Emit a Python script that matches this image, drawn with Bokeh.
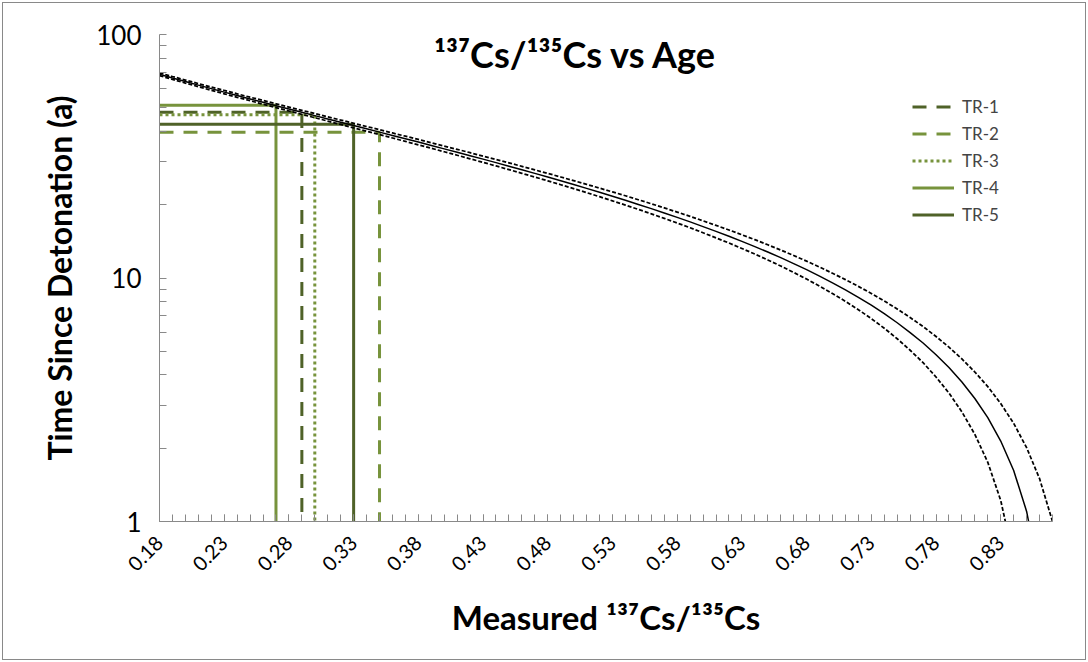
import numpy as np
from bokeh.plotting import figure
from bokeh.models import Range1d, FixedTicker, Label, Legend, LegendItem
from bokeh.embed import file_html
from bokeh.resources import INLINE

# ---- data ----
ratio = [0.18, 0.19, 0.20, 0.21, 0.22, 0.23, 0.24, 0.25, 0.26, 0.27,
         0.28, 0.29, 0.30, 0.31, 0.32, 0.33, 0.34, 0.35, 0.36, 0.37,
         0.38, 0.39, 0.40, 0.41, 0.42, 0.43, 0.44, 0.45, 0.46, 0.47,
         0.48, 0.49, 0.50, 0.51, 0.52, 0.53, 0.54, 0.55, 0.56, 0.57,
         0.58, 0.59, 0.60, 0.61, 0.62, 0.63, 0.64, 0.65, 0.66, 0.67,
         0.68, 0.69, 0.70, 0.71, 0.72, 0.73, 0.74, 0.75, 0.76, 0.77,
         0.78, 0.79, 0.80, 0.81, 0.82, 0.83, 0.84, 0.85, 0.86, 0.87]

age_central = [68.67, 66.32, 64.09, 61.96, 59.94, 58.00, 56.15, 54.37, 52.67, 51.02,
               49.44, 47.91, 46.44, 45.01, 43.63, 42.29, 40.99, 39.73, 38.50, 37.31,
               36.15, 35.02, 33.91, 32.84, 31.79, 30.77, 29.77, 28.79, 27.83, 26.89,
               25.98, 25.08, 24.20, 23.34, 22.49, 21.66, 20.85, 20.05, 19.27, 18.50,
               17.74, 17.00, 16.26, 15.54, 14.84, 14.14, 13.46, 12.78, 12.12, 11.46,
               10.82, 10.18, 9.55, 8.94, 8.33, 7.73, 7.14, 6.55, 5.97, 5.41,
               4.84, 4.29, 3.74, 3.20, 2.67, 2.14, 1.62, 1.10, 0.59, 0.09]

age_upper = [69.58, 67.23, 65.00, 62.87, 60.85, 58.91, 57.06, 55.28, 53.58, 51.93,
             50.35, 48.82, 47.35, 45.92, 44.54, 43.20, 41.90, 40.64, 39.41, 38.22,
             37.06, 35.93, 34.82, 33.75, 32.70, 31.68, 30.68, 29.70, 28.74, 27.80,
             26.89, 25.99, 25.11, 24.25, 23.40, 22.57, 21.76, 20.96, 20.18, 19.41,
             18.65, 17.91, 17.17, 16.45, 15.75, 15.05, 14.37, 13.69, 13.03, 12.37,
             11.73, 11.09, 10.46, 9.85, 9.24, 8.64, 8.05, 7.46, 6.88, 6.32,
             5.75, 5.20, 4.65, 4.11, 3.58, 3.05, 2.53, 2.01, 1.50, 1.00]

ratio_lower = ratio[:67]
age_lower = [67.75, 65.40, 63.17, 61.04, 59.02, 57.08, 55.23, 53.45, 51.75, 50.10,
             48.52, 46.99, 45.52, 44.09, 42.71, 41.37, 40.07, 38.81, 37.58, 36.39,
             35.23, 34.10, 32.99, 31.92, 30.87, 29.85, 28.85, 27.87, 26.91, 25.97,
             25.06, 24.16, 23.28, 22.42, 21.57, 20.74, 19.93, 19.13, 18.35, 17.58,
             16.82, 16.08, 15.34, 14.62, 13.92, 13.22, 12.54, 11.86, 11.20, 10.54,
             9.90, 9.26, 8.63, 8.02, 7.41, 6.81, 6.22, 5.63, 5.05, 4.49,
             3.92, 3.37, 2.82, 2.28, 1.75, 1.22, 0.70]

tr_names = ["TR-1", "TR-2", "TR-3", "TR-4", "TR-5"]
tr_ratio = [0.29, 0.35, 0.30, 0.27, 0.33]
tr_age = [47.9, 39.7, 46.8, 51.2, 42.8]

x_tick_values = [0.18, 0.23, 0.28, 0.33, 0.38, 0.43, 0.48, 0.53, 0.58, 0.63, 0.68, 0.73, 0.78, 0.83]
x_tick_labels = ["0.18", "0.23", "0.28", "0.33", "0.38", "0.43", "0.48", "0.53",
                 "0.58", "0.63", "0.68", "0.73", "0.78", "0.83"]
y_tick_values = [1, 10, 100]
y_tick_labels = ["1", "10", "100"]

# ---- styles ----
FONT = "Lato"
AXIS_GRAY = "#898989"
DARK = "#4F6228"
LIGHT = "#77933C"
tr_colors = [DARK, LIGHT, LIGHT, LIGHT, DARK]
tr_dashes = ["14 10", "14 10", "3 3", "solid", "solid"]

X0, X1 = 0.18, 0.87
Y0, Y1 = 1, 100

p = figure(width=1088, height=662, x_range=Range1d(X0, X1), y_range=Range1d(Y0, Y1),
           y_axis_type="log", output_backend="svg", toolbar_location=None,
           min_border_left=159, min_border_right=36, min_border_top=34, min_border_bottom=141)
p.outline_line_color = None
p.xgrid.visible = False
p.ygrid.visible = False
p.background_fill_color = "white"
p.border_fill_color = None
p.styles = {"background-color": "white",
            "box-shadow": "inset 0 0 0 2px white, inset 0 0 0 3px #898989"}

# TR reference lines
items = []
for name, xr, ya, c, d in zip(tr_names, tr_ratio, tr_age, tr_colors, tr_dashes):
    r = p.line([X0, xr, xr], [ya, ya, Y0], line_color=c, line_width=3, line_dash=d)
    items.append(LegendItem(label=name, renderers=[r]))

# curves
p.line(ratio, age_upper, line_color="black", line_width=1.75, line_dash="4 2")
p.line(ratio_lower, age_lower, line_color="black", line_width=1.75, line_dash="4 2")
p.line(ratio, age_central, line_color="black", line_width=1.5)

# x axis
minor = [round(0.18 + 0.01 * i, 2) for i in range(0, 70)]
p.xaxis.ticker = FixedTicker(ticks=x_tick_values, minor_ticks=minor)
p.xaxis.major_label_overrides = dict(zip(x_tick_values, x_tick_labels))
p.xaxis.major_label_orientation = np.pi / 4
p.xaxis.major_label_text_font = FONT
p.xaxis.major_label_text_font_size = "20px"
p.xaxis.major_label_text_color = "black"
p.xaxis.major_label_standoff = 18
p.xaxis.axis_label = "Measured ¹³⁷Cs/¹³⁵Cs"
p.xaxis.axis_label_text_font = FONT
p.xaxis.axis_label_text_font_style = "bold"
p.xaxis.axis_label_text_font_size = "33px"
p.xaxis.axis_label_text_color = "black"
p.xaxis.axis_label_standoff = 17

# y axis
p.yaxis.ticker = FixedTicker(ticks=y_tick_values,
                             minor_ticks=[2, 3, 4, 5, 6, 7, 8, 9, 20, 30, 40, 50, 60, 70, 80, 90])
p.yaxis.major_label_overrides = dict(zip(y_tick_values, y_tick_labels))
p.yaxis.major_label_text_font = FONT
p.yaxis.major_label_text_font_size = "26px"
p.yaxis.major_label_text_color = "black"
p.yaxis.major_label_standoff = 18
p.yaxis.axis_label = "Time Since Detonation (a)"
p.yaxis.axis_label_text_font = FONT
p.yaxis.axis_label_text_font_style = "bold"
p.yaxis.axis_label_text_font_size = "32px"
p.yaxis.axis_label_text_color = "black"
p.yaxis.axis_label_standoff = 14

for ax in (p.xaxis, p.yaxis):
    ax.axis_line_color = AXIS_GRAY
    ax.major_tick_line_color = AXIS_GRAY
    ax.minor_tick_line_color = AXIS_GRAY
    ax.major_tick_in = 7
    ax.major_tick_out = 0
    ax.minor_tick_in = 7
    ax.minor_tick_out = 0

# title inside plot area
p.add_layout(Label(x=416, y=468, x_units="screen", y_units="screen",
                   text="¹³⁷Cs/¹³⁵Cs vs Age", text_font=FONT, text_font_style="bold",
                   text_font_size="36px", text_align="center", text_baseline="middle",
                   text_color="black"))

# legend
legend = Legend(items=items, location=(753, 296), glyph_width=42, glyph_height=21,
                label_height=21, spacing=6, padding=0, label_standoff=8,
                border_line_color=None, background_fill_alpha=0,
                label_text_font=FONT, label_text_font_size="17px")
p.add_layout(legend)

open("out.html", "w").write(file_html(p, INLINE))
